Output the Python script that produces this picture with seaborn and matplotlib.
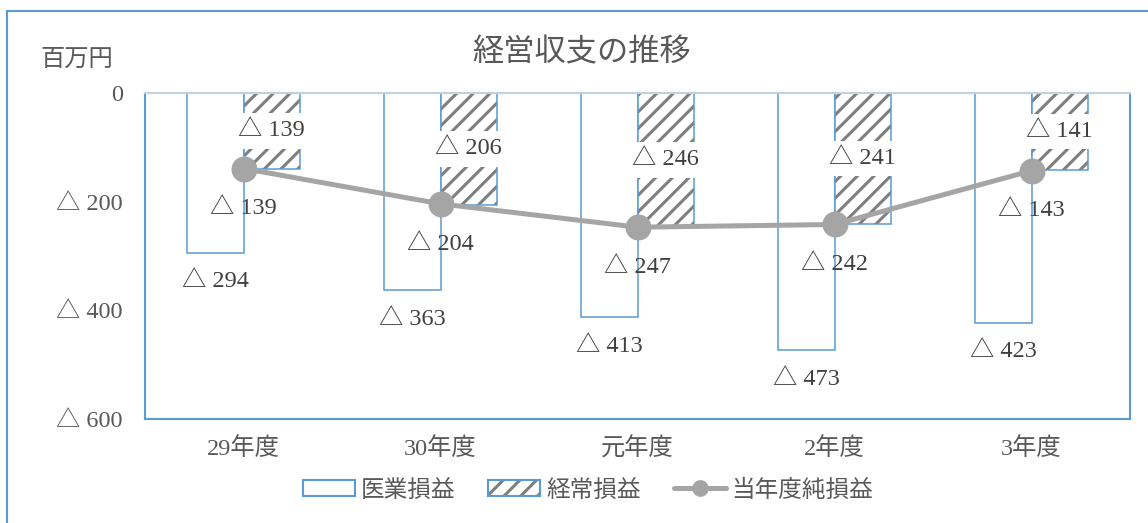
import matplotlib
matplotlib.use("Agg")
import matplotlib.pyplot as plt
from matplotlib.patches import Rectangle, Patch
from matplotlib.lines import Line2D
from matplotlib.legend_handler import HandlerTuple
from matplotlib.ticker import FuncFormatter
import pandas as pd
import seaborn as sns

# --- data (百万円) ---
years = ["29年度", "30年度", "元年度", "2年度", "3年度"]
medical = [-294, -363, -413, -473, -423]      # 医業損益
ordinary = [-139, -206, -246, -241, -141]     # 経常損益
net = [-139, -204, -247, -242, -143]          # 当年度純損益
series_names = ["医業損益", "経常損益", "当年度純損益"]
y_ticks = [0, -200, -400, -600]

BLUE = "#5b9bd5"
HATCH_GRAY = "#7f7f7f"
LINE_GRAY = "#a5a5a5"
TEXT = "#595959"
LABEL = "#404040"

sns.set_theme(style="white")
SERIF_JP = ["Liberation Serif", "Noto Sans CJK JP", "DejaVu Serif"]
SANS_JP = ["Noto Sans CJK JP", "DejaVu Sans"]
plt.rcParams["font.family"] = SERIF_JP
plt.rcParams["hatch.linewidth"] = 2.2

fig = plt.figure(figsize=(11.48, 5.23), dpi=100)
W, H = 1148, 523
ax = fig.add_axes([145 / W, 1 - 419 / H, (1130 - 145) / W, (419 - 93) / H])

bars = pd.DataFrame({
    "年度": years * 2,
    "値": medical + ordinary,
    "区分": [series_names[0]] * len(years) + [series_names[1]] * len(years),
})
sns.barplot(data=bars, x="年度", y="値", hue="区分", order=years,
            hue_order=series_names[:2], width=0.57, legend=False,
            errorbar=None, ax=ax, zorder=2)

rects = [p for p in ax.patches if isinstance(p, Rectangle)]
med_rects = rects[:len(years)]
ord_rects = rects[len(years):2 * len(years)]

for p in med_rects:
    p.set_facecolor("white")
    p.set_edgecolor(BLUE)
    p.set_linewidth(1.1)

for p in ord_rects:
    p.set_facecolor("white")
    p.set_edgecolor(HATCH_GRAY)
    p.set_hatch("//")
    p.set_linewidth(0)
    ax.add_patch(Rectangle((p.get_x(), p.get_y()), p.get_width(), p.get_height(),
                           fill=False, edgecolor=BLUE, linewidth=1.1, zorder=2.5))

line_df = pd.DataFrame({"年度": years, "値": net})
sns.pointplot(data=line_df, x="年度", y="値", order=years, color=LINE_GRAY,
              markers="o", markersize=16, linewidth=3.6, errorbar=None,
              ax=ax, zorder=5)

# value labels
for p, v in zip(med_rects, medical):
    ax.annotate(f"△ {abs(v)}", (p.get_x() + p.get_width() / 2, v),
                xytext=(0, -21), textcoords="offset points",
                ha="center", va="center", fontsize=17.5, color=LABEL, zorder=6)

for p, v in zip(ord_rects, ordinary):
    ax.text(p.get_x() + p.get_width() / 2, v / 2, f"△ {abs(v)}",
            ha="center", va="center", fontsize=17.5, color=LABEL, zorder=6,
            bbox=dict(boxstyle="square,pad=0.3", fc="white", ec="none"))

for i, v in enumerate(net):
    ax.annotate(f"△ {abs(v)}", (i, v), xytext=(0, -29), textcoords="offset points",
                ha="center", va="center", fontsize=17.5, color=LABEL, zorder=6)

# axes
ax.set_ylim(-600, 0)
ax.set_xlim(-0.5, len(years) - 0.5)
ax.set_yticks(y_ticks)
ax.yaxis.set_major_formatter(FuncFormatter(lambda v, _: "0" if v == 0 else f"△ {abs(int(v))}"))
ax.set_xlabel("")
ax.set_ylabel("")
ax.tick_params(axis="y", length=0, pad=16, labelsize=17.5, labelcolor=TEXT)
ax.tick_params(axis="x", length=0, pad=13, labelsize=17.5, labelcolor=TEXT)
ax.grid(False)
for side in ("left", "right", "bottom"):
    ax.spines[side].set_color(BLUE)
    ax.spines[side].set_linewidth(1.5)
ax.spines["top"].set_color("#c3d1df")
ax.spines["top"].set_linewidth(1.5)

# titles
fig.text(582 / W, 1 - 52 / H, "経営収支の推移", ha="center", va="center",
         fontsize=22.5, color=TEXT, family=SANS_JP)
fig.text(40 / W, 1 - 59 / H, "百万円", ha="left", va="center",
         fontsize=17.5, color=TEXT, family=SANS_JP)

# legend
h_med = Patch(facecolor="white", edgecolor=BLUE, linewidth=1.5)
h_ord = (Patch(facecolor="white", edgecolor=HATCH_GRAY, hatch="//", linewidth=0),
         Patch(facecolor="none", edgecolor=BLUE, linewidth=1.5))
h_net = Line2D([], [], color=LINE_GRAY, linewidth=3.6, marker="o", markersize=11)
fig.legend([h_med, h_ord, h_net], series_names, loc="center",
           bbox_to_anchor=(588 / W, 1 - 490 / H), ncol=3, frameon=False,
           prop={"family": SANS_JP, "size": 17}, labelcolor=TEXT,
           handlelength=2.2, handleheight=0.65, handletextpad=0.25,
           columnspacing=1.4, handler_map={tuple: HandlerTuple(ndivide=1)})

# chart frame
fig.add_artist(Rectangle((7 / W, -0.1), 1.2, 1.1 - 11 / H, transform=fig.transFigure,
                         fill=False, edgecolor=BLUE, linewidth=1.5))

fig.savefig("out.png", dpi=100, facecolor="white")
